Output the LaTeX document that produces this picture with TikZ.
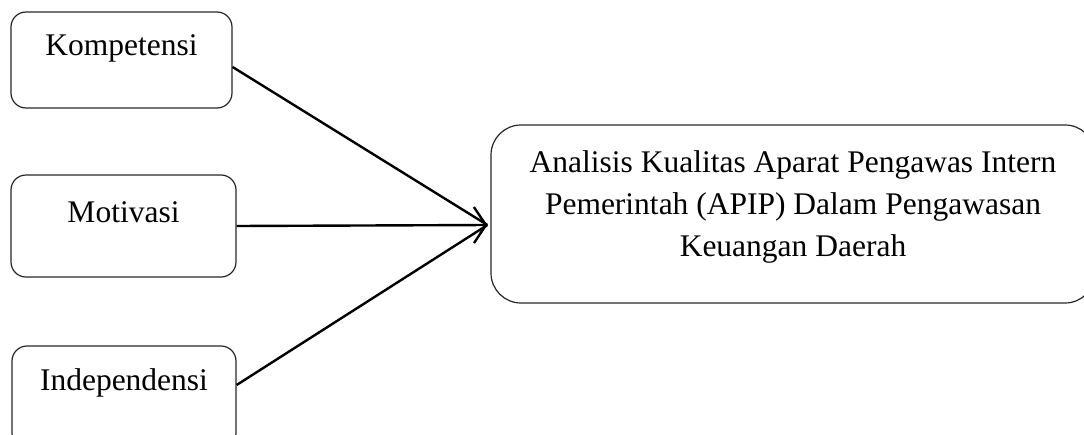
\documentclass[tikz,border=0pt]{standalone}
\usepackage{fontspec}
\setmainfont{Liberation Serif}
\usetikzlibrary{arrows.meta}
\begin{document}
\begin{tikzpicture}[x=1pt,y=-1pt,
  box/.style={draw=black!85, line width=1.2pt, rounded corners=15pt, inner sep=0pt,
    font=\fontsize{31.5}{42}\selectfont, text height=22pt},
  bigbox/.style={draw=black!85, line width=1.2pt, rounded corners=30pt, inner sep=0pt,
    minimum width=604pt, minimum height=178pt},
  conn/.style={line width=2.4pt, black},
  tip/.style={-{Straight Barb[length=12pt,width=36pt,line width=2.4pt]}}]
\useasboundingbox (0,0) rectangle (1084,434);
\begin{scope}
\clip (0,0) rectangle (1084,434);
\node[box, minimum width=221pt, minimum height=96pt, text depth=32pt] (k) at (121.5,60) {Kompetensi};
\node[box, minimum width=225pt, minimum height=102pt, text depth=30pt] (m) at (123.5,226) {Motivasi};
\node[box, minimum width=224pt, minimum height=102pt, text depth=36pt] (i) at (124,397) {Independensi};
\node[bigbox] (r) at (793,214) {};
\end{scope}
\node[font=\fontsize{31.5}{42}\selectfont, align=center, inner sep=0pt] (rt) at (793,207)
  {Analisis Kualitas Aparat Pengawas Intern\\Pemerintah (APIP) Dalam Pengawasan\\Keuangan Daerah};
\coordinate (t) at ([xshift=-3pt,yshift=-11pt]r.west);
\draw[conn] ([yshift=-7pt]k.east) -- (t);
\draw[conn] ([yshift=12pt]i.east) -- (t);
\draw[conn, tip] (m.east) -- (t);
\end{tikzpicture}
\end{document}
